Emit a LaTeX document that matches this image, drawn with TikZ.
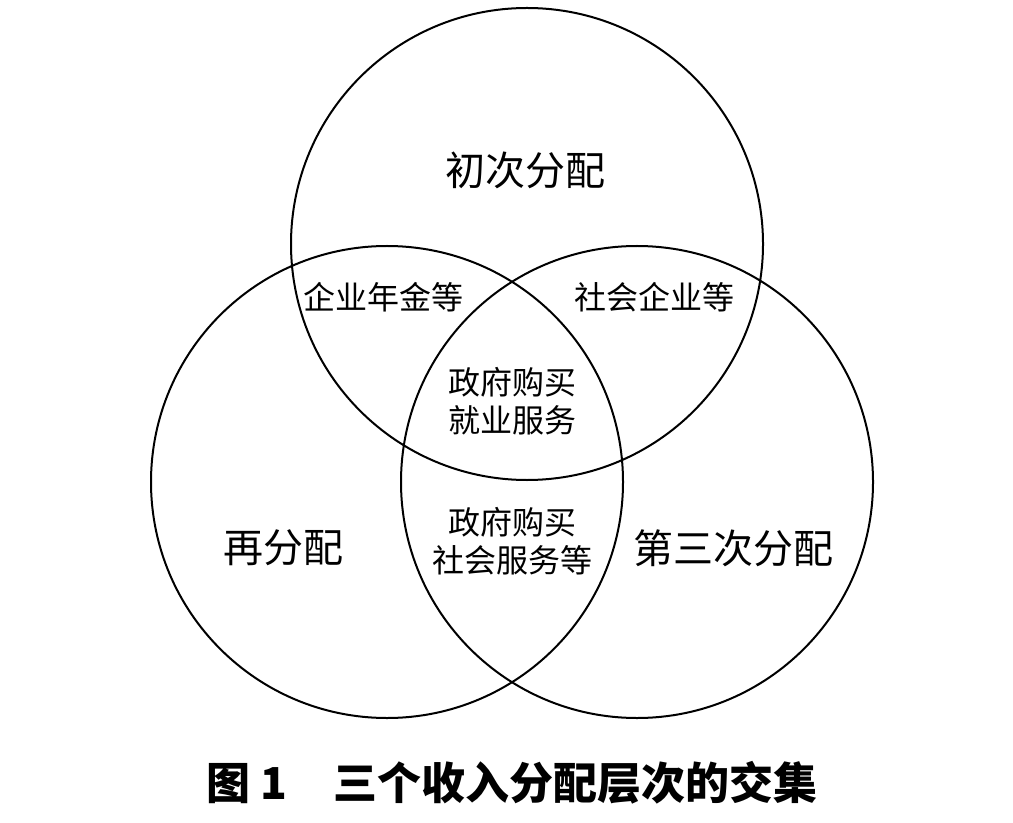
\documentclass[tikz,border=0pt]{standalone}
\usepackage{fontspec}
\setmainfont{Noto Sans CJK SC}
\usetikzlibrary{positioning}

\begin{document}
\begin{tikzpicture}[x=0.75pt,y=-0.75pt,
 ring/.style={circle,draw=black,line width=1.5pt,minimum size=354pt,inner sep=0pt},
 bigtag/.style={font=\fontsize{30}{34}\selectfont,inner sep=0pt},
 smalltag/.style={font=\fontsize{24}{28.5}\selectfont,align=center,inner sep=0pt},
 caption/.style={font=\fontsize{33}{37}\selectfont\bfseries,inner sep=0pt}]
 \useasboundingbox (0,0) rectangle (1013,823);
 \node[ring](primary) at (527,244){};
 \node[ring](redist) at (387,482){};
 \node[ring](tertiary) at (637,482){};
 \node[bigtag](primarytag) at (525,170){初次分配};
 \node[bigtag](redisttag) at (283,548){再分配};
 \node[bigtag](tertiarytag) at (733,548){第三次分配};
 \node[smalltag](pension) at (383,297){企业年金等};
 \node[smalltag](social) at (654,297){社会企业等};
 \node[smalltag](jobs) at (512,401){政府购买\\就业服务};
 \node[smalltag](services) at (512,541){政府购买\\社会服务等};
 \node[caption](title) at (512,783){图 1\hspace{1.05em}三个收入分配层次的交集};
\end{tikzpicture}
\end{document}
